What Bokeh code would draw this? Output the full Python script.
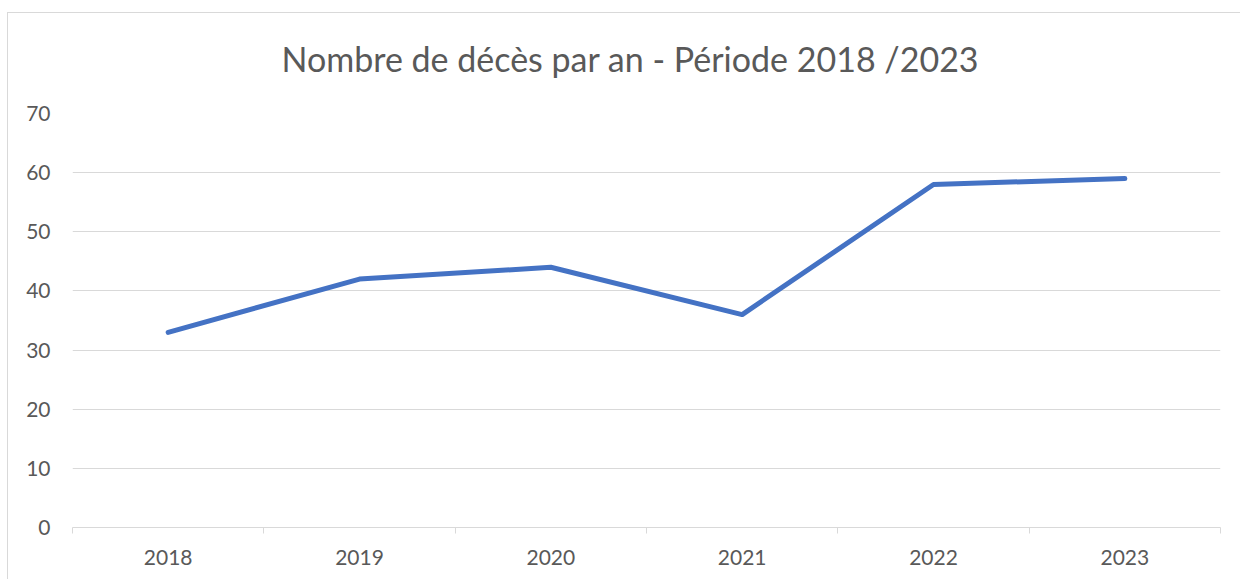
from bokeh.plotting import figure
from bokeh.models import FixedTicker, ColumnDataSource, Spacer, Title
from bokeh.layouts import column, row
from bokeh.embed import file_html
from bokeh.resources import INLINE

years = ["2018", "2019", "2020", "2021", "2022", "2023"]
deaths = [33, 42, 44, 36, 58, 59]
y_ticks = [0, 10, 20, 30, 40, 50, 60, 70]

FONT = "Lato"
TXT = "#595959"
GRID = "#D9D9D9"

xs = [i + 0.5 for i in range(len(years))]
src = ColumnDataSource(data=dict(x=xs, y=deaths, year=years))

p = figure(width=1233, height=567, output_backend="svg", toolbar_location=None,
           x_range=(0, len(years)), y_range=(0, 70),
           min_border_left=64, min_border_right=21, min_border_top=100, min_border_bottom=53,
           title="Nombre de décès par an - Période 2018 /2023")
p.styles = {"border-left": "1px solid #D9D9D9", "border-top": "1px solid #D9D9D9"}
p.outline_line_color = None
p.background_fill_color = "white"
p.border_fill_color = "white"

p.title.text_font = FONT
p.title.text_font_size = "34px"
p.title.text_font_style = "normal"
p.title.text_color = TXT
p.title.align = "left"
p.title.offset = 209
p.title.standoff = 43

# thin spacer between the title and the plot area
p.add_layout(Title(text=" ", text_font_size="1px", standoff=10), "above")

p.line("x", "y", source=src, line_color="#4472C4", line_width=5, line_cap="round", line_join="round")

# y axis
p.yaxis.ticker = FixedTicker(ticks=y_ticks)
p.yaxis.axis_line_color = None
p.yaxis.major_tick_line_color = None
p.yaxis.minor_tick_line_color = None
p.yaxis.major_tick_out = 0
p.yaxis.major_tick_in = 0
p.yaxis.major_label_standoff = 22
p.yaxis.major_label_text_font = FONT
p.yaxis.major_label_text_font_size = "21px"
p.yaxis.major_label_text_color = TXT

# x axis
p.xaxis.ticker = FixedTicker(ticks=xs, minor_ticks=list(range(len(years) + 1)))
p.xaxis.major_label_overrides = {x: y for x, y in zip(xs, years)}
p.xaxis.axis_line_color = GRID
p.xaxis.axis_line_width = 1
p.xaxis.major_tick_line_color = None
p.xaxis.major_tick_out = 0
p.xaxis.major_tick_in = 0
p.xaxis.minor_tick_line_color = GRID
p.xaxis.minor_tick_out = 6
p.xaxis.minor_tick_in = 0
p.xaxis.major_label_standoff = 16
p.xaxis.major_label_text_font = FONT
p.xaxis.major_label_text_font_size = "21px"
p.xaxis.major_label_text_color = TXT

p.xgrid.grid_line_color = None
p.ygrid.grid_line_color = GRID
p.ygrid.grid_line_width = 1

layout = row(Spacer(width=7), column(Spacer(height=12), p, spacing=0), spacing=0)
open("out.html", "w").write(file_html(layout, INLINE))
